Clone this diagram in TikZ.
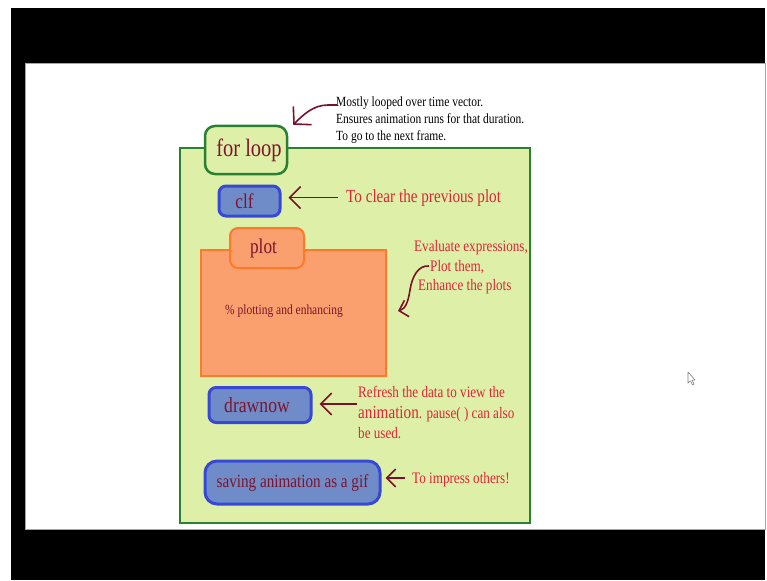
\documentclass[tikz,border=0pt]{standalone}
\usepackage{fontspec}
\setmainfont{Liberation Serif}[FakeStretch=0.82]
\usetikzlibrary{arrows.meta}
\definecolor{dred}{RGB}{125,20,45}
\definecolor{ared}{RGB}{218,38,58}
\definecolor{arrowred}{RGB}{122,16,42}
\definecolor{lgreen}{RGB}{222,240,168}
\definecolor{dgreen}{RGB}{40,128,48}
\definecolor{bfill}{RGB}{112,140,200}
\definecolor{bline}{RGB}{55,72,215}
\definecolor{ofill}{RGB}{250,160,110}
\definecolor{oline}{RGB}{255,122,40}
\newcommand\fsz[1]{\fontsize{#1}{#1}\selectfont}
\tikzset{
  greenbox/.style={draw=dgreen, fill=lgreen, line width=2.5pt, inner sep=0pt},
  greentab/.style={draw=dgreen, fill=lgreen, line width=2.5pt, inner sep=0pt, rounded corners=10pt, text=dred},
  bluebox/.style={draw=bline, fill=bfill, line width=3pt, inner sep=0pt, rounded corners=7pt, text=dred},
  orangebox/.style={draw=oline, fill=ofill, line width=2pt, inner sep=0pt},
  orangetab/.style={draw=oline, fill=ofill, line width=2pt, inner sep=0pt, rounded corners=8pt, text=dred},
  note/.style={text=ared, inner sep=0pt, anchor=base west},
  blacknote/.style={text=black, inner sep=0pt, anchor=base west},
  pointer/.style={draw=arrowred, line width=1.6pt, -{Straight Barb[length=11pt,width=22pt]}},
  smallpointer/.style={draw=arrowred, line width=1.6pt, -{Straight Barb[length=9pt,width=18pt]}},
  curvepointer/.style={draw=arrowred, line width=1.6pt, -{Straight Barb[length=12pt,width=26pt]}},
  curvepointerb/.style={draw=arrowred, line width=1.6pt, -{Straight Barb[length=8pt,width=17pt]}},
}
\begin{document}
\begin{tikzpicture}[x=1pt,y=-1pt]
\useasboundingbox (0,0) rectangle (767,580);
% screen frame
\fill[white] (0,0) rectangle (767,580);
\fill[black] (11,8) rectangle (765,580);
\fill[white] (25,63) rectangle (765,529);
\draw[gray!70, line width=0.8pt] (25,63) rectangle (765,529);

% main loop box
\node[greenbox, minimum width=350pt, minimum height=375pt] (loopbox) at (355,335.5) {};
\node[greentab, minimum width=82pt, minimum height=48pt, font=\fsz{25}] (forloop) at (246,150) {\kern6pt for loop};

% clf
\node[bluebox, minimum width=61pt, minimum height=30pt, font=\fsz{21}] (clf) at (249.5,201) {clf\kern10pt};

% plot
\node[orangebox, minimum width=185pt, minimum height=126pt] (plotbody) at (293.5,313) {};
\node[orangetab, minimum width=74pt, minimum height=40pt, font=\fsz{21}] (plottab) at (267,248) {plot\kern7pt};
\node[blacknote, text=dred, font=\fsz{14}] (plotting) at (225,314) {\% plotting and enhancing};

% drawnow
\node[bluebox, minimum width=102pt, minimum height=35pt, font=\fsz{21.5}] (drawnow) at (260,405) {drawnow\kern6pt};

% saving
\node[bluebox, minimum width=175pt, minimum height=43pt, rounded corners=12pt, font=\fsz{18.5}] (saving) at (292.5,482.5) {saving animation as a gif};

% notes
\node[blacknote, font=\fsz{14}] (mostly) at (336,106.5) {Mostly looped over time vector.};
\node[blacknote, font=\fsz{14}] (ensures) at (336,123.5) {Ensures animation runs for that duration.};
\node[blacknote, font=\fsz{14}] (nextframe) at (336,140.5) {To go to the next frame.};

\node[note, font=\fsz{18.5}] (clearnote) at (346,202) {To clear the previous plot};

\node[note, font=\fsz{16}] (evala) at (414,251.5) {Evaluate expressions,};
\node[note, font=\fsz{16}] (evalb) at (430,271.5) {Plot them,};
\node[note, font=\fsz{16}] (evalc) at (418,290.5) {Enhance the plots};

\node[note, font=\fsz{16}] (refa) at (358,397.5) {Refresh the data to view the};
\node[note, font=\fsz{16}] (refb) at (358,418.5) {{\fsz{18.5}animation}. pause( ) can also};
\node[note, font=\fsz{16}] (refc) at (358,438.5) {be used.};

\node[note, font=\fsz{16}] (impress) at (412,483.5) {To impress others!};

% connectors
\coordinate (flA) at (337,105);
\draw[curvepointer] (flA) -- (328,105) .. controls (313,105) and (303,115) .. ([xshift=5pt]forloop.north east);

\draw[pointer] ([xshift=-8pt]clearnote.west) -- ([xshift=7pt]clf.east |- clearnote.west);

\coordinate (plA) at (429,266);
\draw[curvepointerb] (plA) .. controls (418,265) and (412,277) .. (410,290) .. controls (408,303) and (405,309) .. ([shift={(11pt,2pt)}]plotbody.east);

\coordinate (dnA) at (357,404);
\draw[pointer] (dnA) -- ([xshift=7pt]drawnow.east |- dnA);

\coordinate (svA) at (405,478);
\draw[smallpointer] (svA) -- ([xshift=4pt]saving.east |- svA);

% mouse cursor
\draw[gray, fill=white, line width=0.6pt, line join=round]
  (688,372) -- (688,383) -- (690.5,380.8) -- (692.5,385) -- (694,384.2) -- (692.2,380.2) -- (695,380) -- cycle;
\end{tikzpicture}
\end{document}
